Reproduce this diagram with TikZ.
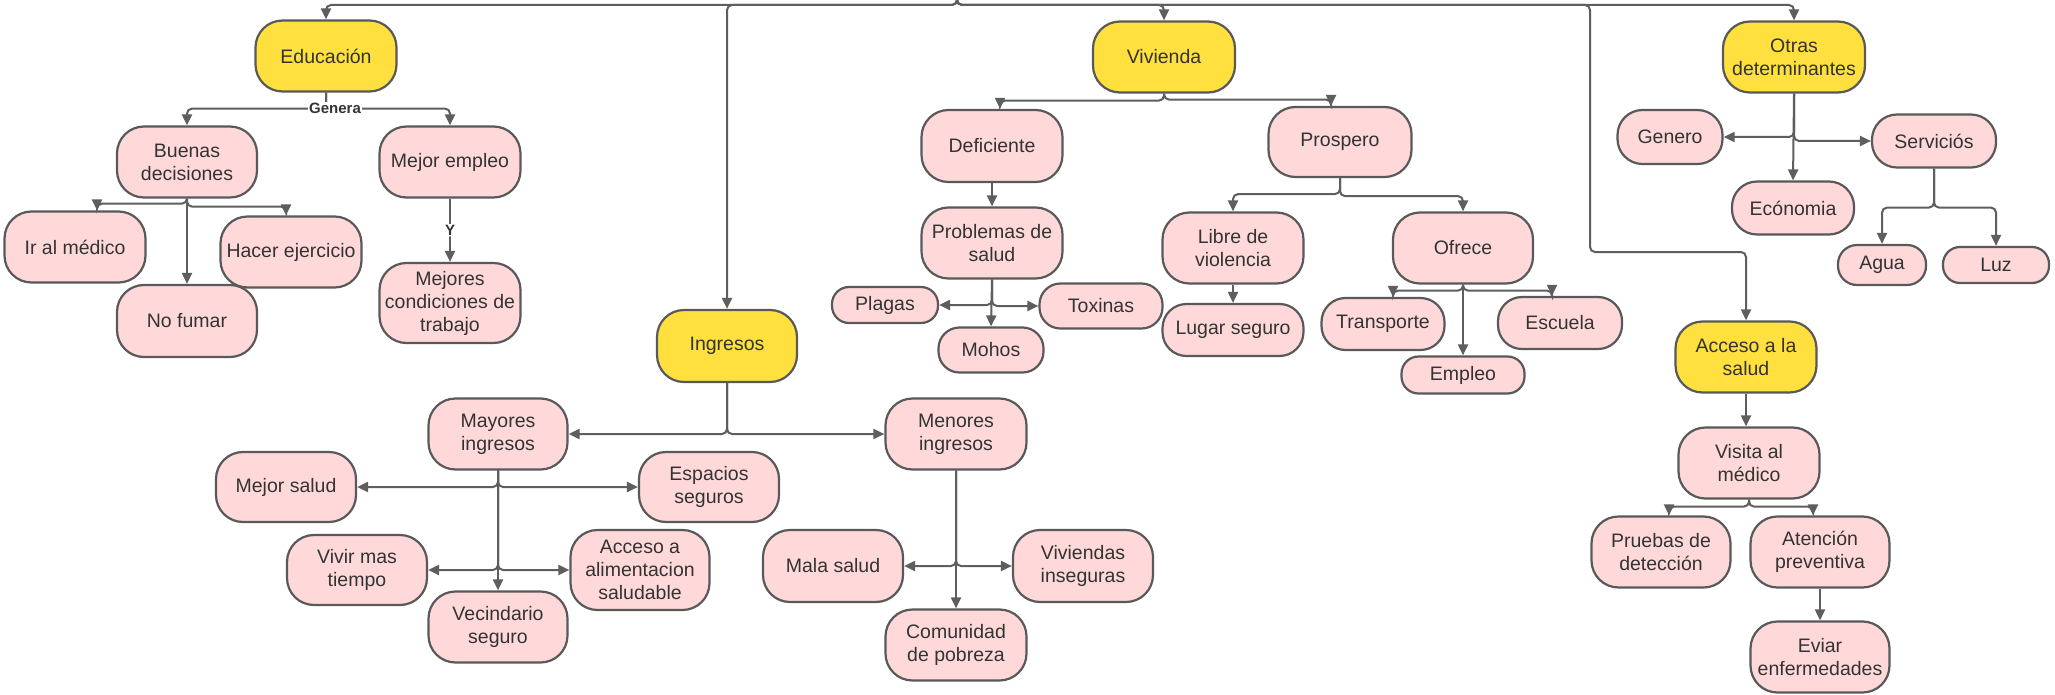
\documentclass[tikz,border=0pt]{standalone}
\usepackage{fontspec}
\setmainfont{Liberation Sans}
\usetikzlibrary{arrows.meta}
\definecolor{yel}{HTML}{FFE03F}
\definecolor{pnk}{HTML}{FFD9DA}
\definecolor{bord}{HTML}{595959}
\definecolor{lnc}{HTML}{5E5E5E}
\definecolor{txt}{HTML}{333333}
\begin{document}
\begin{tikzpicture}[x=1pt,y=-1pt,
 box/.style={draw=bord, line width=2.2pt, rounded corners=27pt, align=center, inner sep=1pt, text=txt, font=\fontsize{19.5}{23}\selectfont},
 yb/.style={box, fill=yel},
 pb/.style={box, fill=pnk},
 sz/.style 2 args={minimum width=#1pt, minimum height=#2pt},
 rc/.style={rounded corners=#1pt},
 arr/.style={draw=lnc, line width=2pt, rounded corners=5pt, -{Triangle[length=11pt,width=10pt]}},
 lbl/.style={fill=white, inner sep=1pt, text=txt, font=\fontsize{15}{17}\selectfont\bfseries}
]
\useasboundingbox[fill=white] (0,0) rectangle (2055,695);

% main categories
\node[yb, sz={141}{71}] (edu) at (326,56) {Educación};
\node[yb, sz={142}{71}] (viv) at (1164,57) {Vivienda};
\node[yb, sz={142}{71}] (otr) at (1794,57) {Otras\\determinantes};
\node[yb, sz={140}{72}] (ing) at (727,346) {Ingresos};
\node[yb, sz={141}{71}] (acc) at (1746,357) {Acceso a la\\salud};

% educacion
\node[pb, sz={140}{71}] (bd) at (187,162) {Buenas\\decisiones};
\node[pb, sz={141}{71}] (me) at (450,162) {Mejor empleo};
\node[pb, sz={141}{71}] (irm) at (75,247) {Ir al médico};
\node[pb, sz={141}{71}] (hac) at (291,252) {Hacer ejercicio};
\node[pb, sz={140}{72}] (nof) at (187,321) {No fumar};
\node[pb, sz={141}{80}] (mcd) at (450,303) {Mejores\\condiciones de\\trabajo};

% vivienda
\node[pb, sz={141}{72}] (def) at (992,146) {Deficiente};
\node[pb, sz={141}{71}] (pds) at (992,243) {Problemas de\\salud};
\node[pb, sz={106}{36}, rc=17] (pla) at (885,305) {Plagas};
\node[pb, sz={123}{45}, rc=21] (tox) at (1101,306) {Toxinas};
\node[pb, sz={105}{45}, rc=21] (moh) at (991,350) {Mohos};
\node[pb, sz={143}{70}] (pro) at (1340,142) {Prospero};
\node[pb, sz={141}{71}] (lib) at (1233,248) {Libre de\\violencia};
\node[pb, sz={141}{52}, rc=24] (lug) at (1233,330) {Lugar seguro};
\node[pb, sz={140}{71}] (ofr) at (1463,248) {Ofrece};
\node[pb, sz={123}{52}, rc=24] (tra) at (1383,324) {Transporte};
\node[pb, sz={124}{52}, rc=24] (esc) at (1560,323) {Escuela};
\node[pb, sz={123}{37}, rc=17] (emp) at (1463,375) {Empleo};

% otras
\node[pb, sz={105}{54}, rc=25] (gen) at (1670,137) {Genero};
\node[pb, sz={124}{53}, rc=25] (ser) at (1934,141) {Serviciós};
\node[pb, sz={122}{53}, rc=25] (eco) at (1793,208) {Ecónomia};
\node[pb, sz={88}{40}, rc=19] (agu) at (1882,265) {Agua};
\node[pb, sz={106}{36}, rc=17] (luz) at (1996,265) {Luz};

% ingresos
\node[pb, sz={139}{71}] (may) at (498,434) {Mayores\\ingresos};
\node[pb, sz={141}{71}] (men) at (956,434) {Menores\\ingresos};
\node[pb, sz={140}{70}] (mej) at (286,487) {Mejor salud};
\node[pb, sz={140}{70}] (esp) at (709,487) {Espacios\\seguros};
\node[pb, sz={140}{70}] (vmt) at (357,570) {Vivir mas\\tiempo};
\node[pb, sz={139}{80}] (ali) at (640,570) {Acceso a\\alimentacion\\saludable};
\node[pb, sz={139}{71}] (vec) at (498,627) {Vecindario\\seguro};
\node[pb, sz={140}{72}] (mal) at (833,566) {Mala salud};
\node[pb, sz={140}{72}] (vvi) at (1083,566) {Viviendas\\inseguras};
\node[pb, sz={141}{71}] (com) at (956,645) {Comunidad\\de pobreza};

% acceso
\node[pb, sz={141}{71}] (vis) at (1749,463) {Visita al\\médico};
\node[pb, sz={139}{71}] (pru) at (1661,552) {Pruebas de\\detección};
\node[pb, sz={139}{71}] (ate) at (1820,552) {Atención\\preventiva};
\node[pb, sz={139}{71}] (evi) at (1820,657) {Eviar\\enfermedades};

% top distribution
\coordinate (src) at (957,-2);
\coordinate (accbend) at (1590,252);
\draw[arr] (src) -- ++(0,7) -| (edu.north);
\draw[arr] (src) -- ++(0,7) -| (ing.north);
\draw[arr] (src) -- ++(0,7) -| (viv.north);
\draw[arr] (src) -- ++(0,7) -| (otr.north);
\draw[arr] (src) -- ++(0,7) -| (accbend) -| (acc.north);

% educacion connectors
\draw[arr] (edu.south) -- ++(0,16) -| (bd.north);
\draw[arr] (edu.south) -- ++(0,16) -| (me.north);
\node[lbl] (lgen) at (335,108) {Genera};
\draw[arr] (bd.south) -- ++(0,5) -| ([xshift=22pt]irm.north);
\draw[arr] (bd.south) -- ++(0,8) -| ([xshift=-5pt]hac.north);
\draw[arr] (bd.south) -- (nof.north);
\draw[arr] (me.south) -- node[lbl] (ly) {Y} (mcd.north);

% vivienda connectors
\draw[arr] (viv.south) -- ++(0,7) -| ([xshift=8pt]def.north);
\draw[arr] (viv.south) -- ++(0,6) -| ([xshift=-9pt]pro.north);
\draw[arr] (def.south) -- (pds.north);
\draw[arr] (pds.south) |- (pla.east);
\draw[arr] (pds.south) |- (tox.west);
\draw[arr] (pds.south) -- (moh.north);
\draw[arr] (pro.south) -- ++(0,16) -| (lib.north);
\draw[arr] (pro.south) -- ++(0,18) -| (ofr.north);
\draw[arr] (lib.south) -- (lug.north);
\draw[arr] (ofr.south) -- ++(0,6) -| ([xshift=10pt]tra.north);
\draw[arr] (ofr.south) -- ++(0,6) -| ([xshift=-8pt]esc.north);
\draw[arr] (ofr.south) -- (emp.north);

% otras connectors
\draw[arr] (otr.south) |- (gen.east);
\draw[arr] (otr.south) |- (ser.west);
\draw[arr] (otr.south) -- (eco.north);
\draw[arr] (ser.south) -- ++(0,39) -| (agu.north);
\draw[arr] (ser.south) -- ++(0,39) -| (luz.north);

% ingresos connectors
\draw[arr] (ing.south) |- (may.east);
\draw[arr] (ing.south) |- (men.west);
\draw[arr] (may.south) |- (mej.east);
\draw[arr] (may.south) |- (esp.west);
\draw[arr] (may.south) |- (vmt.east);
\draw[arr] (may.south) |- (ali.west);
\draw[arr] (may.south) -- (vec.north);
\draw[arr] (men.south) |- (mal.east);
\draw[arr] (men.south) |- (vvi.west);
\draw[arr] (men.south) -- (com.north);

% acceso connectors
\draw[arr] (acc.south) -- (acc.south |- vis.north);
\draw[arr] (vis.south) -- ++(0,7) -| ([xshift=8pt]pru.north);
\draw[arr] (vis.south) -- ++(0,7) -| ([xshift=-7pt]ate.north);
\draw[arr] (ate.south) -- (evi.north);
\end{tikzpicture}
\end{document}
